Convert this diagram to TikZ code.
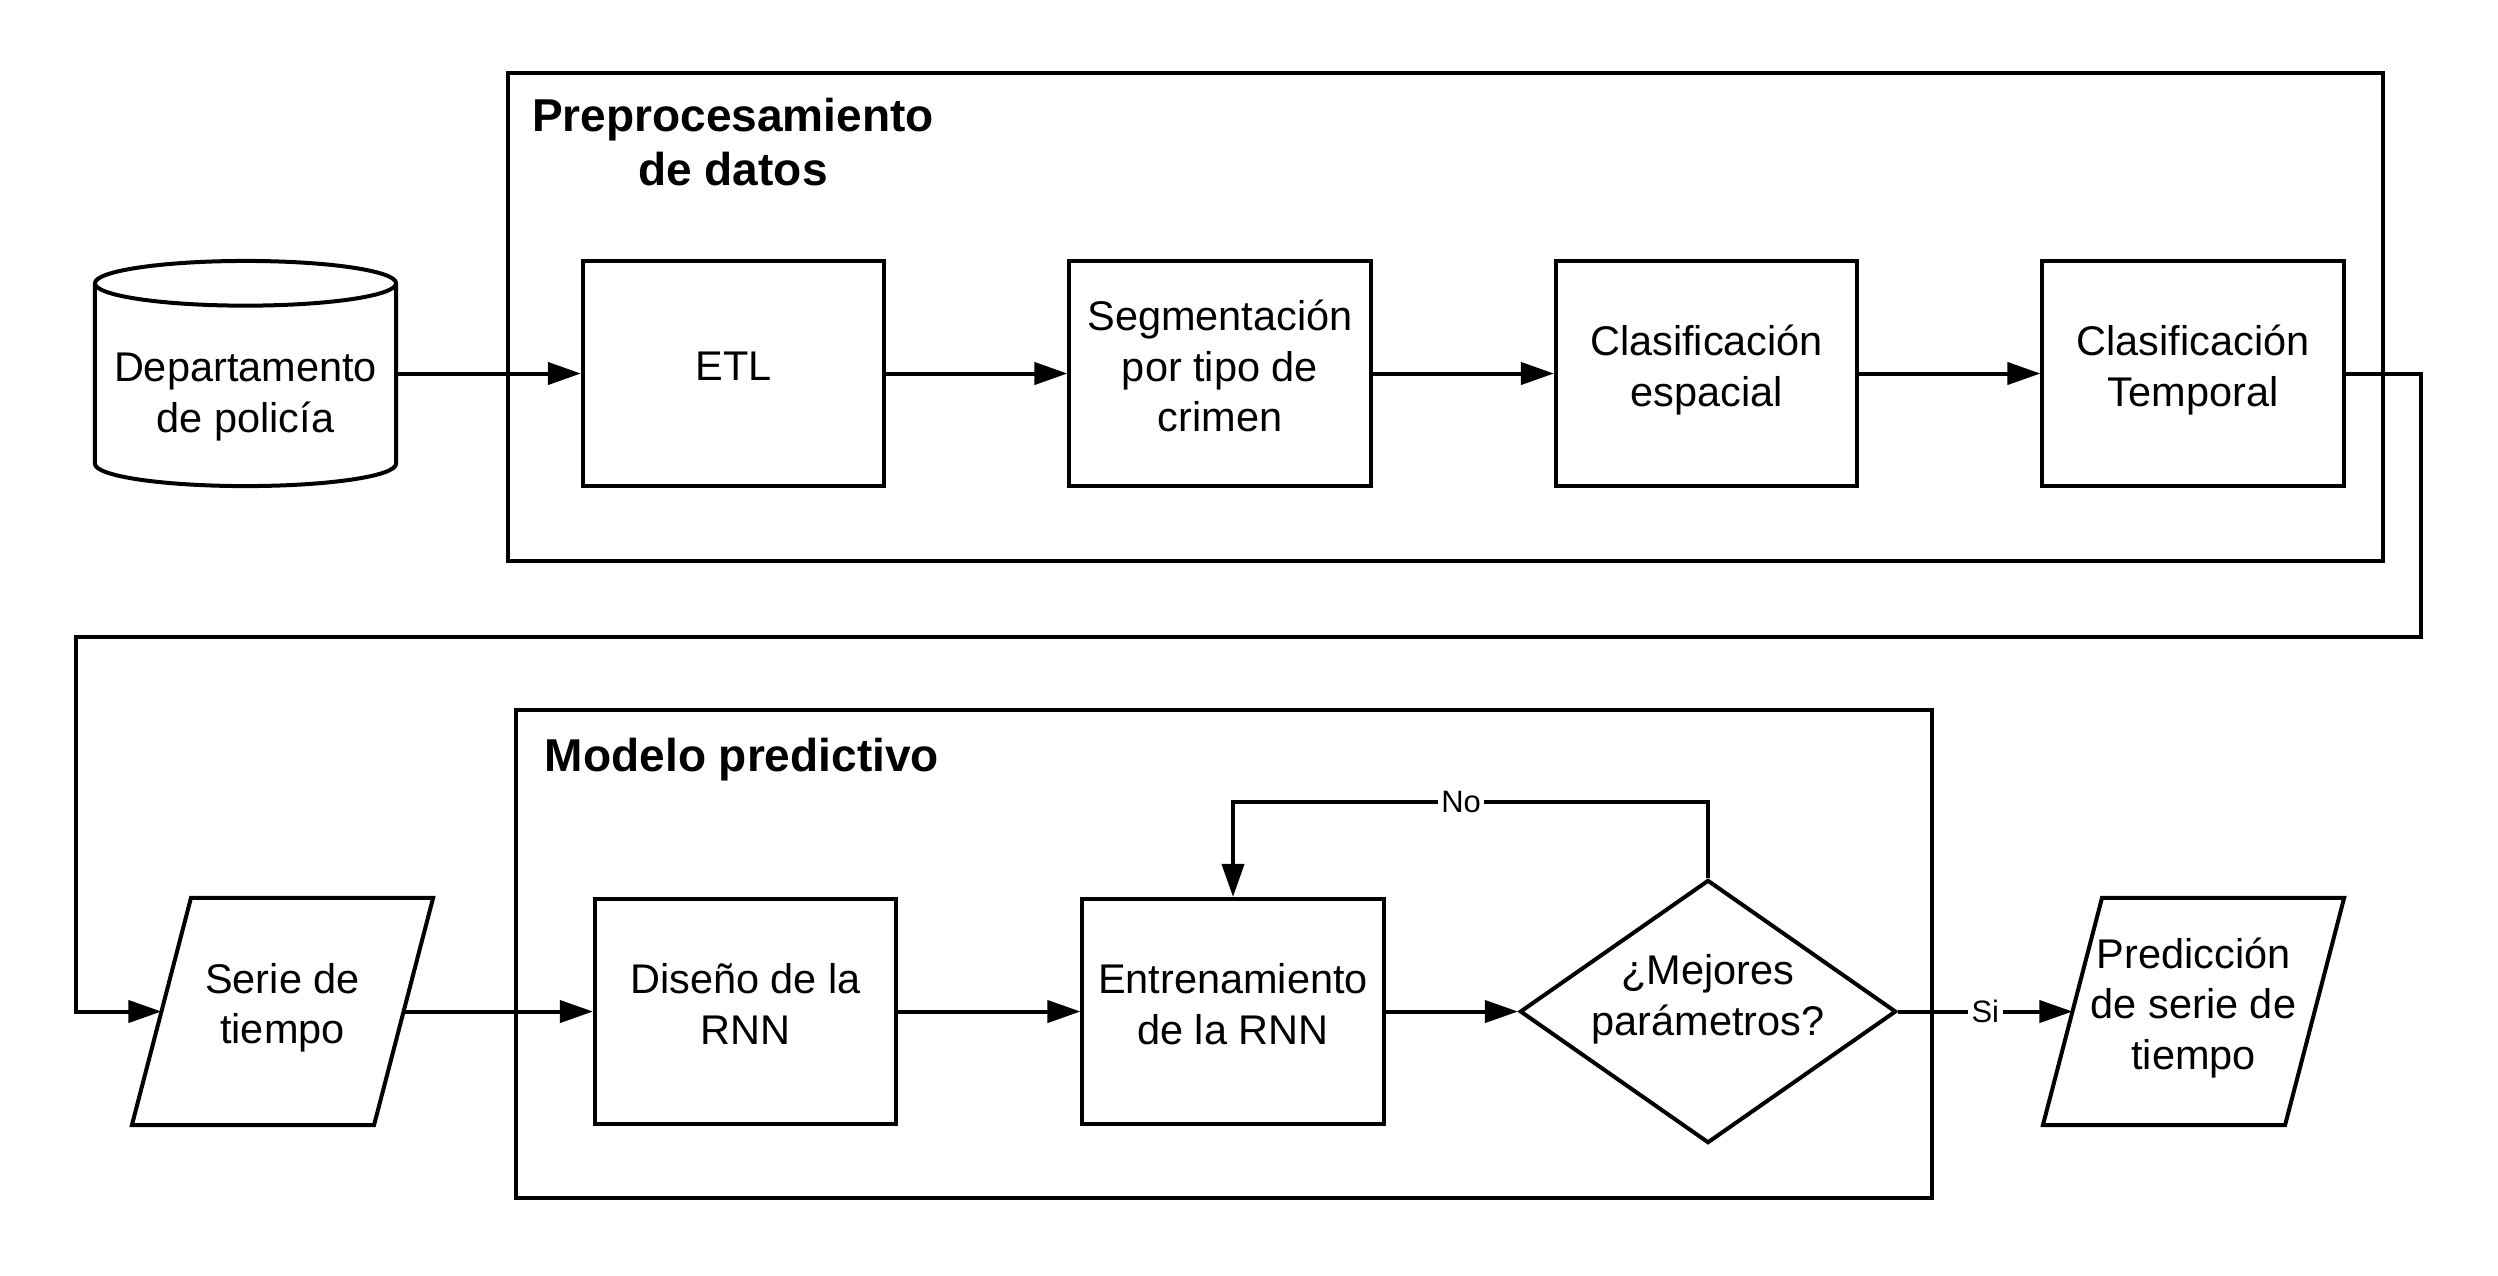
\documentclass[tikz,border=0pt]{standalone}
\usepackage{fontspec}
\setmainfont{Liberation Sans}
\usepackage{tikz}
\usetikzlibrary{shapes.geometric,arrows.meta}

\begin{document}
\begin{tikzpicture}[x=0.01cm,y=-0.01cm,line width=0.4mm,
  txt/.style={align=center,inner sep=0pt,font=\fontsize{11.8}{14.4}\selectfont},
  caja/.style={txt,draw,rectangle,text depth=1.5mm,minimum width=3.01cm,minimum height=2.25cm},
  cil/.style={txt,draw,cylinder,shape border rotate=90,aspect=0.17,text height=10.2mm,minimum width=3.01cm,minimum height=2.25cm,anchor=shape center},
  dato/.style={txt,rectangle,outer sep=0pt,text depth=1.6mm,minimum width=3.01cm,minimum height=2.27cm},
  rombo/.style={txt,draw,diamond,text height=6.8mm,text depth=2.1mm,aspect=1.43,minimum width=3.76cm,minimum height=2.63cm},
  titulo/.style={align=center,inner sep=0pt,font=\fontsize{13.1}{15.4}\selectfont\bfseries},
  lbl/.style={fill=white,inner sep=1pt,font=\fontsize{8.8}{10}\selectfont},
  flecha/.style={-{Triangle[length=3.3mm,width=2.2mm]}}]
\useasboundingbox (0,0) rectangle (2498,1275);
\draw (508,73) rectangle (2383,561);
\draw (516,710) rectangle (1932,1198);
\node[titulo] (t1) at (733,142) {Preprocesamiento\\de datos};
\node[titulo] (t2) at (742,760) {Modelo predictivo};
\node[cil] (dep) at (245.5,373.5) {Departamento\\de policía};
\node[caja] (etl) at (733.5,373.5) {ETL};
\node[caja] (seg) at (1220,373.5) {Segmentación\\por tipo de\\crimen};
\node[caja] (esp) at (1706.5,373.5) {Clasificación\\espacial};
\node[caja] (tem) at (2193,373.5) {Clasificación\\Temporal};
\node[dato] (serie) at (282.5,1011.5) {Serie de\\tiempo};
\node[caja] (dis) at (745.5,1011.5) {Diseño de la\\RNN};
\node[caja] (ent) at (1233,1011.5) {Entrenamiento\\de la RNN};
\node[rombo] (mej) at (1708,1011.5) {¿Mejores\\parámetros?};
\node[dato] (pred) at (2193.5,1011.5) {Predicción\\de serie de\\tiempo};
\draw ([xshift=0.59cm]serie.north west) -- (serie.north east) -- ([xshift=-0.59cm]serie.south east) -- (serie.south west) -- cycle;
\draw ([xshift=0.59cm]pred.north west) -- (pred.north east) -- ([xshift=-0.59cm]pred.south east) -- (pred.south west) -- cycle;
\coordinate (c1) at (2421,637);
\coordinate (c2) at (76,637);
\coordinate (n1) at (1708,802);
\draw[flecha] (dep.east |- etl) -- (etl);
\draw[flecha] (etl) -- (seg);
\draw[flecha] (seg) -- (esp);
\draw[flecha] (esp) -- (tem);
\draw[flecha] (tem.east) -| (c1) -- (c2) |- ([xshift=0.295cm]serie.west);
\draw[flecha] ([xshift=-0.295cm]serie.east) -- (dis.west);
\draw[flecha] (dis) -- (ent);
\draw[flecha] (ent) -- (mej);
\draw[flecha] (mej.north) -- (n1) -| node[lbl,pos=0.26] {No} (ent.north);
\draw[flecha] (mej.east) -- node[lbl] {Si} ([xshift=0.295cm]pred.west);
\end{tikzpicture}
\end{document}
